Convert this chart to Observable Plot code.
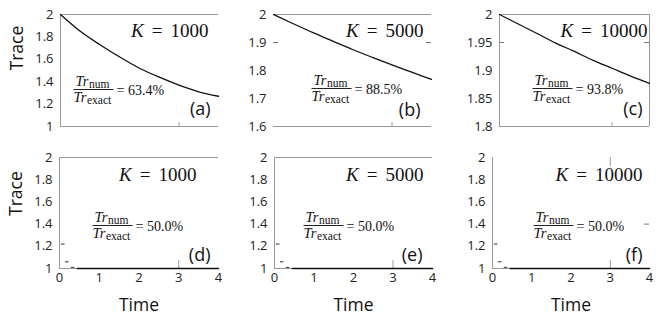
<!DOCTYPE html>
<html>
<head>
<meta charset="utf-8">
<script src="https://cdn.jsdelivr.net/npm/d3@7"></script>
<script src="https://cdn.jsdelivr.net/npm/@observablehq/plot@0.6"></script>
<style>
  html, body { margin: 0; padding: 0; background: #fff; }
  #wrap { position: relative; width: 664px; height: 321px; overflow: hidden; }
  #wrap svg { position: absolute; left: 0; top: 0; }
</style>
</head>
<body>
<div id="wrap"></div>
<script>
// ---------- data ----------
const times = [0, 0.5, 1, 1.5, 2, 2.5, 3, 3.5, 4];
const traceK1000 = [2.0, 1.85, 1.73, 1.62, 1.52, 1.44, 1.37, 1.31, 1.27];
const traceK5000 = [2.0, 1.967, 1.935, 1.905, 1.875, 1.847, 1.82, 1.794, 1.768];
const traceK10000 = [2.0, 1.983, 1.966, 1.949, 1.934, 1.918, 1.904, 1.89, 1.877];

// second row: trace collapses to 1 almost immediately
const earlyTimes = [0.1, 0.2, 0.35];
const earlyTrace = [1.22, 1.06, 1.01];
const tailTimes = [0.45, 1, 1.5, 2, 2.5, 3, 3.5, 4];
const tailTrace = [1, 1, 1, 1, 1, 1, 1, 1];

const kLabels = ["1000", "5000", "10000", "1000", "5000", "10000"];
const ratioLabels = ["63.4%", "88.5%", "93.8%", "50.0%", "50.0%", "50.0%"];
const panelTags = ["(a)", "(b)", "(c)", "(d)", "(e)", "(f)"];

const xTicks = [0, 1, 2, 3, 4];
const timeDomain = [0, 4];
const yTicksA = [1, 1.2, 1.4, 1.6, 1.8, 2];
const yTicksB = [1.6, 1.7, 1.8, 1.9, 2];
const yTicksC = [1.8, 1.85, 1.9, 1.95, 2];
const yTicksLow = [1, 1.2, 1.4, 1.6, 1.8, 2];
const gridTimes = [3];
const stubB = [1.9];
const stubC = [1.95];
const stubF = [1.4];

// ---------- layout / style ----------
const W = 664, H = 321;
const SANS = "'Open Sans', Lato, sans-serif";
const SERIF = "'Liberation Serif', 'DejaVu Serif', serif";
const FRAME = "#9a9a9a";

const panels = [
  {left: 60, top: 14, w: 158, h: 112, series: {t: times, v: traceK1000}, yTicks: yTicksA, sides: ["left", "top", "bottom"],
   kRight: 10, kTop: 16, tagRight: 8, tagBottom: 17, frac: [13, 75], yLabel: true, xAxis: false, gridIn: 4, stubL: null, stubR: null},
  {left: 273, top: 14, w: 158, h: 112, series: {t: times, v: traceK5000}, yTicks: yTicksB, sides: ["top", "bottom"],
   kRight: 8, kTop: 16, tagRight: 11, tagBottom: 16, frac: [38, 74], yLabel: false, xAxis: false, gridIn: 4, stubL: stubB, stubR: stubB},
  {left: 499, top: 14, w: 150, h: 112, series: {t: times, v: traceK10000}, yTicks: yTicksC, sides: ["left", "top", "bottom", "right"],
   kRight: 2, kTop: 16, tagRight: 7, tagBottom: 17, frac: [33, 74], yLabel: false, xAxis: false, gridIn: 4, stubL: stubC, stubR: stubC},
  {left: 59, top: 157, w: 159, h: 111, series: null, yTicks: yTicksLow, sides: ["left", "top", "bottom"],
   kRight: 22, kTop: 17, tagRight: 8, tagBottom: 13, frac: [33, 68], yLabel: true, xAxis: true, gridIn: 8, stubL: null, stubR: null},
  {left: 274, top: 157, w: 158, h: 111, series: null, yTicks: yTicksLow, sides: ["left", "top", "bottom"],
   kRight: 9, kTop: 17, tagRight: 10, tagBottom: 13, frac: [29, 68], yLabel: false, xAxis: true, gridIn: 8, stubL: null, stubR: null},
  {left: 492, top: 157, w: 157, h: 111, series: null, yTicks: yTicksLow, sides: ["left", "bottom"],
   kRight: 7, kTop: 17, tagRight: 7, tagBottom: 13, frac: [41, 68], yLabel: false, xAxis: true, gridIn: 8, stubL: null, stubR: stubF}
];

function txt(s, o) {
  return Plot.text([s], Object.assign({text: d => d, lineAnchor: "middle", fill: "#111"}, o));
}

function kMarks(k, rp, ty) {
  const fs = 19, digit = 9.5, gap = 8;
  const numW = k.length * digit;
  const base = {frameAnchor: "top-right", dy: ty, textAnchor: "end", fontFamily: SERIF, fontSize: fs};
  return [
    txt(k, Object.assign({}, base, {dx: -rp})),
    txt("=", Object.assign({}, base, {dx: -rp - numW - gap})),
    txt("K", Object.assign({}, base, {dx: -rp - numW - gap - 10.7 - gap, fontStyle: "italic"}))
  ];
}

function fracMarks(p, ax, ay, ratio) {
  const base = {frameAnchor: "top-left", textAnchor: "start", fontFamily: SERIF};
  const barLen = 40;
  return [
    txt("Tr", Object.assign({}, base, {dx: ax + 2, dy: ay - 8, fontSize: 14.5, fontStyle: "italic"})),
    txt("num", Object.assign({}, base, {dx: ax + 15.5, dy: ay - 5, fontSize: 11.5})),
    // fraction bar: a thin filled band inside the frame
    Plot.frame({fill: "#222", stroke: null, insetLeft: ax, insetRight: p.w - ax - barLen, insetTop: ay - 0.5, insetBottom: p.h - ay - 0.5}),
    txt("Tr", Object.assign({}, base, {dx: ax, dy: ay + 8, fontSize: 14.5, fontStyle: "italic"})),
    txt("exact", Object.assign({}, base, {dx: ax + 13.5, dy: ay + 11, fontSize: 11.5})),
    txt("= " + ratio, Object.assign({}, base, {dx: ax + barLen + 3, dy: ay + 1, fontSize: 14}))
  ];
}

const wrap = document.getElementById("wrap");

panels.forEach((p, i) => {
  const yDomain = [p.yTicks[0], p.yTicks[p.yTicks.length - 1]];
  const marks = [];

  // partial frame
  if (p.sides.includes("top")) marks.push(Plot.ruleY([yDomain[1]], {y: d => d, stroke: FRAME, strokeWidth: 1}));
  if (p.sides.includes("bottom")) marks.push(Plot.ruleY([yDomain[0]], {y: d => d, stroke: FRAME, strokeWidth: 1}));
  if (p.sides.includes("left")) marks.push(Plot.ruleX([timeDomain[0]], {x: d => d, stroke: FRAME, strokeWidth: 1}));
  if (p.sides.includes("right")) marks.push(Plot.ruleX([timeDomain[1]], {x: d => d, stroke: FRAME, strokeWidth: 1}));

  // short inner grid stub at t = 3
  marks.push(Plot.tickX(gridTimes, {x: d => d, stroke: FRAME, insetTop: p.h - p.gridIn}));
  if (i === 5) marks.push(Plot.tickX(gridTimes, {x: d => d, stroke: FRAME, insetBottom: p.h - 9}));
  if (p.stubL) marks.push(Plot.tickY(p.stubL, {y: d => d, stroke: "#777", insetRight: p.w - 5}));
  if (p.stubR) marks.push(Plot.tickY(p.stubR, {y: d => d, stroke: "#777", insetLeft: p.w - 5}));

  // data
  if (p.series) {
    const idx = d3.range(p.series.t.length);
    marks.push(Plot.line(idx, {x: j => p.series.t[j], y: j => p.series.v[j], stroke: "#111", strokeWidth: 1.3, curve: "monotone-x"}));
  } else {
    const e = d3.range(earlyTimes.length);
    marks.push(Plot.ruleY(e, {y: j => earlyTrace[j], x1: j => earlyTimes[j] - 0.05, x2: j => earlyTimes[j] + 0.04, stroke: "#333", strokeWidth: 1}));
    const t = d3.range(tailTimes.length);
    marks.push(Plot.line(t, {x: j => tailTimes[j], y: j => tailTrace[j], stroke: "#111", strokeWidth: 1.6}));
  }

  // annotations
  marks.push(...kMarks(kLabels[i], p.kRight, p.kTop));
  marks.push(...fracMarks(p, p.frac[0], p.frac[1], ratioLabels[i]));
  marks.push(txt(panelTags[i], {frameAnchor: "bottom-right", dx: -p.tagRight, dy: -p.tagBottom, textAnchor: "end", fontFamily: SANS, fontSize: 18}));

  if (p.yLabel) marks.push(txt("Trace", {frameAnchor: "left", dx: -43, dy: i === 3 ? 3 : 0, rotate: -90, fontFamily: SANS, fontSize: 17.5}));
  if (p.xAxis) marks.push(txt("Time", {frameAnchor: "bottom", dy: 37, fontFamily: SANS, fontSize: 17.5}));

  const svg = Plot.plot({
    width: W, height: H,
    marginLeft: p.left, marginTop: p.top,
    marginRight: W - p.left - p.w, marginBottom: H - p.top - p.h,
    style: {background: "transparent", fontFamily: SANS, fontSize: "13px", color: "#222", overflow: "visible"},
    x: {domain: timeDomain, ticks: xTicks, tickSize: 0, tickPadding: 4, label: null, axis: p.xAxis ? "bottom" : null, tickFormat: d => String(d)},
    y: {domain: yDomain, ticks: p.yTicks, tickSize: 0, tickPadding: 7, label: null, tickFormat: d => String(d)},
    marks
  });
  wrap.appendChild(svg);
});
</script>
</body>
</html>
